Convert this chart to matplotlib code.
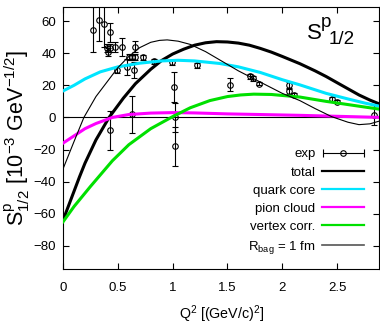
import numpy as np
import matplotlib
matplotlib.use("Agg")
from matplotlib import pyplot as plt
from matplotlib.lines import Line2D
from matplotlib.legend_handler import HandlerErrorbar

plt.rcParams["font.family"] = ["Liberation Sans", "DejaVu Sans"]
plt.rcParams["mathtext.default"] = "regular"

# experimental points: Q^2, S, error
exp_q2 = [0.27, 0.33, 0.37, 0.43, 0.405, 0.43, 0.41, 0.475, 0.54, 0.49, 0.58,
          0.60, 0.63, 0.66, 0.66, 0.65, 0.73, 0.83, 0.99, 1.01, 1.02, 1.02,
          0.63, 0.43, 1.22, 1.52, 1.71, 1.73, 1.79, 2.06, 2.06, 2.11, 2.45,
          2.50, 2.84]
exp_s = [54.5, 60.5, 58, 53, 43.5, 43.5, 41, 44, 44, 29.5, 31.5,
         37.5, 37.5, 37.5, 44, 29.5, 37.5, 35, 34.3, 19, 0, -18,
         2, -8, 32.4, 20.5, 25.5, 24.5, 21, 20, 16.5, 14, 11.5,
         9.8, 1.5]
exp_err = [14, 13, 14, 6, 2.5, 2.5, 2.5, 3, 5.5, 2, 5,
           2, 2, 2, 3.5, 5, 1.5, 1.5, 1.5, 9.5, 9, 12,
           11.5, 12, 1.5, 4, 1.5, 1.5, 1, 2, 2, 1.5, 1.5,
           1, 6]

total_q2 = [0, 0.05, 0.1, 0.15, 0.2, 0.3, 0.42, 0.55, 0.66, 0.8, 0.9, 1.0,
            1.1, 1.2, 1.3, 1.4, 1.5, 1.6, 1.7, 1.8, 1.9, 2.0, 2.16, 2.3,
            2.4, 2.53, 2.7, 2.8, 2.9]
total_s = [-64, -55, -46, -37, -28.5, -14, 0, 12, 21, 30, 35.5, 39.5,
           42.5, 45, 46.5, 47.2, 47, 46.3, 45, 43, 40.7, 38, 33.5, 29,
           25.5, 20.5, 14, 10.8, 8]

quark_q2 = [0, 0.1, 0.2, 0.34, 0.5, 0.7, 0.9, 1.05, 1.2, 1.43, 1.6, 1.8, 2.0,
            2.16, 2.4, 2.6, 2.75, 2.9]
quark_s = [16.5, 20, 24, 28.4, 31.5, 33.8, 35.2, 35.6, 35.2, 33.6, 31.5, 28,
           23.5, 20.3, 15, 11.5, 9, 6.8]

pion_q2 = [0, 0.1, 0.2, 0.3, 0.45, 0.6, 0.8, 1.0, 1.2, 1.5, 1.8, 2.16, 2.5, 2.9]
pion_s = [-16, -11.5, -7, -3.8, 0, 1.8, 2.7, 3, 2.8, 2.2, 1.8, 1.3, 0.7, 0]

vertex_q2 = [0, 0.1, 0.25, 0.45, 0.6, 0.8, 1.0, 1.16, 1.34, 1.5, 1.62, 1.74,
             1.9, 2.16, 2.4, 2.6, 2.9]
vertex_s = [-65, -55.5, -43, -27, -17, -7, 0.5, 6, 10.5, 13, 14, 14.5,
            14.3, 12.7, 10, 8, 5]

bag_q2 = [0, 0.1, 0.19, 0.3, 0.4, 0.5, 0.6, 0.7, 0.8, 0.88, 0.95, 1.05, 1.16,
          1.3, 1.45, 1.6, 1.8, 2.0, 2.16, 2.3, 2.45, 2.6, 2.7, 2.8, 2.9]
bag_s = [-32, -15, 0, 13, 22, 31, 38, 43.5, 46.8, 48, 48.3, 47.5, 45.5,
         41, 35, 29, 22, 15, 10.5, 5.5, 0.5, -3, -4.5, -4, -2]

fig = plt.figure(figsize=(3.8, 3.25), dpi=100)
ax = fig.add_axes([0.166, 0.172, 0.832, 0.805])

ax.axhline(0, color="black", lw=0.8, zorder=1)

ax.errorbar(exp_q2, exp_s, yerr=exp_err, fmt="o", ms=4, mfc="none",
            mec="black", mew=0.8, ecolor="black", elinewidth=0.8,
            capsize=2.2, capthick=0.8, zorder=3)

ax.plot(total_q2, total_s, color="black", lw=2.2, zorder=4)
ax.plot(quark_q2, quark_s, color="#00e5ff", lw=2.2, zorder=4)
ax.plot(pion_q2, pion_s, color="#ff00ff", lw=2.2, zorder=4)
ax.plot(vertex_q2, vertex_s, color="#00e000", lw=2.2, zorder=4)
ax.plot(bag_q2, bag_s, color="black", lw=0.8, zorder=4)

ax.set_xlim(0, 2.885)
ax.set_ylim(-94.5, 68.5)
ax.set_xticks([0, 0.5, 1, 1.5, 2, 2.5])
ax.set_xticklabels(["0", "0.5", "1", "1.5", "2", "2.5"])
ax.set_yticks([-80, -60, -40, -20, 0, 20, 40, 60])
ax.tick_params(direction="in", top=True, right=True, labelsize=9.5,
               length=4, width=0.8)
ax.tick_params(axis="x", pad=9)
ax.tick_params(axis="y", pad=5)

ax.set_xlabel("Q$^2$ [(GeV/c)$^2$]", fontsize=10.3, labelpad=7)
ax.set_ylabel("S$^p_{1/2}$ [10$^{-3}$ GeV$^{-1/2}$]", fontsize=15.5,
              labelpad=1)

# panel label S^p_1/2, gnuplot-like large sub/superscripts
fig.text(0.808, 0.88, "S", fontsize=16, va="baseline")
fig.text(0.845, 0.918, "p", fontsize=13.5, va="baseline")
fig.text(0.864, 0.864, "1/2", fontsize=13.5, va="baseline")

# legend (gnuplot style: text left of sample)
exp_handle = ax.errorbar([np.nan], [np.nan], xerr=[1], fmt="o", ms=4,
                         mfc="none", mec="black", mew=0.8, ecolor="black",
                         elinewidth=0.8, capsize=3, capthick=0.8)
handles = [
    exp_handle,
    Line2D([], [], color="black", lw=1.6),
    Line2D([], [], color="#00e5ff", lw=1.6),
    Line2D([], [], color="#ff00ff", lw=1.6),
    Line2D([], [], color="#00e000", lw=1.6),
    Line2D([], [], color="#555555", lw=1.2),
]
labels = ["exp", "total", "quark core", "pion cloud", "vertex corr.",
          "R$_{bag}$ = 1 fm"]
ax.legend(handles, labels, loc="lower right", bbox_to_anchor=(0.953, 0.05),
          frameon=False, markerfirst=False, fontsize=9.5, handlelength=3.2,
          handletextpad=0.5, labelspacing=0.45, borderpad=0, borderaxespad=0,
          handler_map={type(exp_handle): HandlerErrorbar(xerr_size=1.55)})

fig.savefig("out.png", dpi=100)
